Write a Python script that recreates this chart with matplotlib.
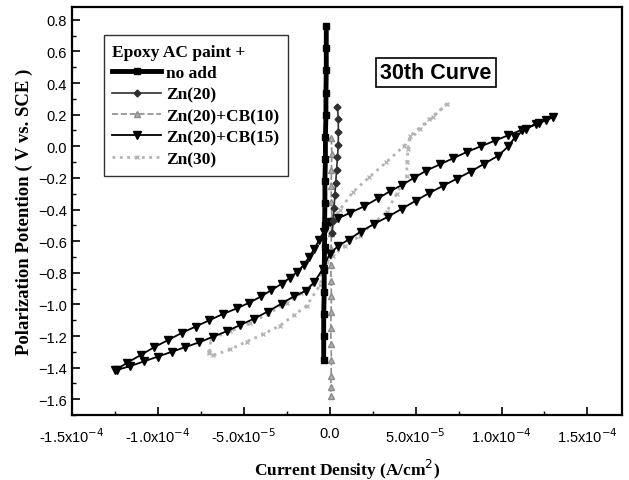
import matplotlib
matplotlib.use('Agg')
import matplotlib.pyplot as plt
import numpy as np

# current density in 1e-5 A/cm2, potential in V
no_add_x = [-0.2, -0.2, -0.2, -0.22, -0.22, -0.25, -0.25, -0.28, -0.28, -0.3, -0.3, -0.32, -0.32, -0.35, -0.35, -0.35]
no_add_y = [0.76, 0.62, 0.48, 0.34, 0.2, 0.06, -0.08, -0.22, -0.36, -0.5, -0.64, -0.78, -0.92, -1.06, -1.2, -1.35]

zn20_x = [0.45, 0.5, 0.5, 0.5, 0.45, 0.4, 0.35, 0.3, 0.25, 0.2, 0.15]
zn20_y = [0.25, 0.17, 0.09, 0.01, -0.07, -0.15, -0.23, -0.31, -0.39, -0.47, -0.55]

cb10_x = [0.1, 0.12, 0.1, 0.08, 0.1, 0.12, 0.1, 0.08, 0.06, 0.08, 0.1, 0.08, 0.06, 0.08, 0.1, 0.08, 0.06, 0.08]
cb10_y = [0.05, -0.05, -0.15, -0.25, -0.35, -0.45, -0.55, -0.65, -0.75, -0.85, -0.95, -1.05, -1.15, -1.25, -1.35, -1.45, -1.52, -1.58]

cb15_x = [-12.5, -11.8, -11.0, -10.2, -9.4, -8.6, -7.8, -7.0, -6.2, -5.4, -4.7, -4.0, -3.4,
          -2.8, -2.3, -1.9, -1.5, -1.2, -0.9, -0.6, -0.35, 0.0, 0.5, 1.2, 2.0, 2.8, 3.5, 4.2,
          4.9, 5.6, 6.4, 7.2, 8.0, 8.8, 9.6, 10.4, 11.2, 12.0, 12.6, 13.0,
          12.2, 11.4, 10.8, 10.4, 9.8, 9.0, 8.2, 7.4, 6.6, 5.8, 5.0, 4.2, 3.4, 2.6, 1.8, 1.1,
          0.5, 0.0, -0.4, -0.9, -1.4, -2.1, -2.8, -3.6, -4.4, -5.2, -6.0, -6.8, -7.6, -8.4,
          -9.2, -10.0, -10.8, -11.6, -12.4]
cb15_y = [-1.417, -1.37, -1.32, -1.27, -1.225, -1.18, -1.14, -1.10, -1.06, -1.025, -0.99, -0.95, -0.91,
          -0.87, -0.83, -0.795, -0.75, -0.70, -0.65, -0.59, -0.54, -0.48, -0.455, -0.42, -0.38, -0.33, -0.285, -0.245,
          -0.20, -0.155, -0.115, -0.075, -0.035, 0.0, 0.035, 0.07, 0.105, 0.14, 0.165, 0.185,
          0.15, 0.11, 0.06, 0.0, -0.06, -0.11, -0.16, -0.205, -0.25, -0.295, -0.345, -0.395, -0.445, -0.49, -0.54, -0.59,
          -0.63, -0.68, -0.775, -0.86, -0.915, -0.95, -0.995, -1.045, -1.09, -1.13, -1.17, -1.205, -1.24, -1.27,
          -1.30, -1.33, -1.36, -1.39, -1.415]

zn30_x = [-7.0, -6.9, -5.8, -4.65, -3.6, -2.5, -1.7, -1.0, -0.5, -0.3, -0.15, 0.6, 1.34, 2.3, 3.3, 4.3,
          5.23, 6.0, 6.8, 5.8, 4.65, 4.55, 4.5, 4.48, 3.9, 3.31, 2.5, 1.74, 0.9, 0.17, -0.17,
          -0.58, -1.34, -2.1, -2.9, -3.9, -4.83, -5.8, -6.8, -7.0]
zn30_y = [-1.30, -1.216, -1.17, -1.12, -1.06, -0.99, -0.93, -0.87, -0.81, -0.75, -0.52, -0.40, -0.29, -0.195, -0.10, 0.0,
          0.107, 0.185, 0.265, 0.17, 0.063, -0.02, -0.1, -0.189, -0.30, -0.416, -0.49, -0.567, -0.63, -0.693, -0.73,
          -0.88, -1.008, -1.07, -1.134, -1.19, -1.235, -1.285, -1.323, -1.31]

xtick_vals = [-15, -10, -5, 0, 5, 10, 15]
xtick_labels = [r'-1.5x10$^{-4}$', r'-1.0x10$^{-4}$', r'-5.0x10$^{-5}$', '0.0',
                r'5.0x10$^{-5}$', r'1.0x10$^{-4}$', r'1.5x10$^{-4}$']
ytick_vals = [0.8, 0.6, 0.4, 0.2, 0.0, -0.2, -0.4, -0.6, -0.8, -1.0, -1.2, -1.4, -1.6]

plt.rcParams['font.family'] = 'Liberation Sans'

fig = plt.figure(figsize=(6.29, 4.81), dpi=100)
ax = fig.add_axes([0.1145, 0.135, 0.874, 0.848])

ax.plot(zn30_x, zn30_y, color='#b4b4b4', ls=':', lw=2.0, marker='x', ms=3.5, mew=1.0,
        label='Zn(30)', zorder=2)
ax.plot(cb10_x, cb10_y, color='#8c8c8c', ls='--', lw=1.2, marker='^', ms=4.5, mfc='#b0b0b0',
        mec='#8c8c8c', label='Zn(20)+CB(10)', zorder=3)
ax.plot(cb15_x, cb15_y, color='black', lw=1.3, marker='v', ms=6, label='Zn(20)+CB(15)', zorder=4)
ax.plot(zn20_x, zn20_y, color='#303030', lw=1.2, marker='D', ms=3.5, label='Zn(20)', zorder=5)
ax.plot(no_add_x, no_add_y, color='black', lw=3.5, marker='s', ms=4, label='no add', zorder=6)

ax.set_xlim(-15, 17)
ax.set_ylim(-1.7, 0.88)
ax.set_xticks(xtick_vals)
ax.set_xticklabels(xtick_labels)
ax.set_yticks(ytick_vals)
ax.set_xticks(np.arange(-12.5, 17, 5), minor=True)
ax.set_yticks(np.arange(-1.7, 0.9, 0.1), minor=True)
ax.tick_params(which='both', direction='in', top=False, right=False, labelsize=10.5)
ax.tick_params(which='major', length=6, width=1.2)
ax.tick_params(which='minor', length=3, width=1)
ax.tick_params(axis='x', pad=8)
for s in ax.spines.values():
    s.set_linewidth(1.6)

serif = 'Liberation Serif'
ax.set_xlabel('Current Density (A/cm$^2$)', fontfamily=serif, fontweight='bold', fontsize=12.5, labelpad=9)
ax.set_ylabel('Polarization Potention ( V vs. SCE )', fontfamily=serif, fontweight='bold', fontsize=13.5,
              labelpad=4)

handles, labels = ax.get_legend_handles_labels()
order = [4, 3, 1, 2, 0]
leg = ax.legend([handles[i] for i in order], [labels[i] for i in order],
                title='Epoxy AC paint +', loc='upper left', bbox_to_anchor=(0.042, 0.952),
                frameon=True, fancybox=False, edgecolor='black', borderpad=0.5,
                handlelength=2.8, handletextpad=0.3, labelspacing=0.3,
                prop={'family': serif, 'weight': 'bold', 'size': 12.5})
leg.get_frame().set_linewidth(1.0)
leg.get_title().set_fontfamily(serif)
leg.get_title().set_fontweight('bold')
leg.get_title().set_fontsize(12.5)
leg._legend_box.align = 'left'

ax.text(0.662, 0.84, '30th Curve', transform=ax.transAxes, ha='center', va='center',
        fontsize=15.5, fontweight='bold',
        bbox=dict(boxstyle='square,pad=0.18', fc='white', ec='black', lw=1.2))

fig.savefig('out.png', dpi=100)
